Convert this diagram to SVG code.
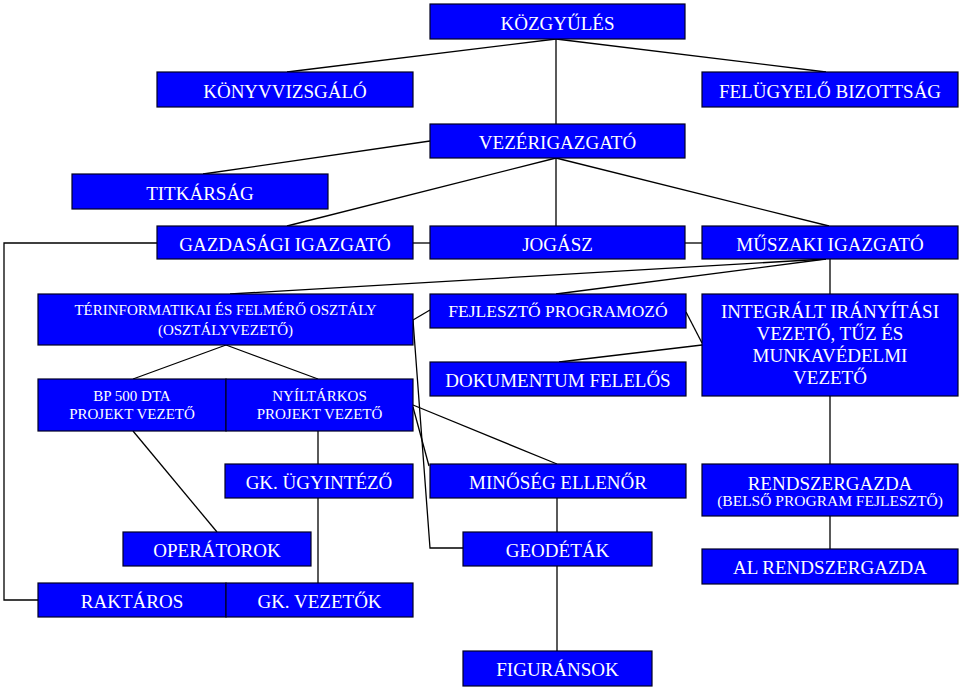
<svg xmlns="http://www.w3.org/2000/svg" width="959" height="691" viewBox="0 0 959 691">
<style>
.b{fill:#0000FF;stroke:#000022;stroke-width:1.2}
.t{font-family:"Liberation Serif","Times New Roman",serif;font-size:19px;fill:#FFFFFF;text-anchor:middle}
.s{font-size:15px}
.c{stroke:#000000;stroke-width:1.3;fill:none}
</style>
<rect width="959" height="691" fill="#FFFFFF"/>
<g id="connectors">
<line class="c" x1="556" y1="39" x2="287" y2="72"/>
<line class="c" x1="556" y1="39" x2="556" y2="124"/>
<line class="c" x1="556" y1="39" x2="826" y2="72"/>
<line class="c" x1="430" y1="141" x2="203" y2="174"/>
<line class="c" x1="556" y1="158" x2="287" y2="226"/>
<line class="c" x1="556" y1="158" x2="556" y2="226"/>
<line class="c" x1="556" y1="158" x2="829" y2="226"/>
<line class="c" x1="413" y1="243" x2="430" y2="243"/>
<line class="c" x1="685" y1="243" x2="702" y2="243"/>
<polyline class="c" points="157,243 4,243 4,600 38,600"/>
<line class="c" x1="826" y1="259" x2="230" y2="294"/>
<line class="c" x1="826" y1="259" x2="556" y2="294"/>
<line class="c" x1="830" y1="259" x2="830" y2="294"/>
<line class="c" x1="830" y1="396" x2="830" y2="464"/>
<line class="c" x1="830" y1="516" x2="830" y2="549"/>
<line class="c" x1="413" y1="320" x2="430" y2="310"/>
<line class="c" x1="686" y1="312" x2="702" y2="343"/>
<line class="c" x1="702" y1="345" x2="559" y2="362"/>
<line class="c" x1="226" y1="345" x2="133" y2="379"/>
<line class="c" x1="226" y1="345" x2="318" y2="379"/>
<line class="c" x1="413" y1="405" x2="557" y2="464"/>
<line class="c" x1="318" y1="431" x2="318" y2="464"/>
<line class="c" x1="318" y1="498" x2="318" y2="583"/>
<line class="c" x1="133" y1="431" x2="217" y2="532"/>
<line class="c" x1="413" y1="407" x2="429" y2="466"/>
<polyline class="c" points="413,320 430,548 463,548"/>
<line class="c" x1="557" y1="498" x2="557" y2="532"/>
<line class="c" x1="557" y1="566" x2="557" y2="651"/>
</g>
<g id="kozgyules"><rect class="b" x="430" y="4" width="255" height="35"/><text class="t" x="557.5" y="30">KÖZGYŰLÉS</text></g>
<g id="konyvvizsgalo"><rect class="b" x="157" y="72" width="256" height="35"/><text class="t" x="285" y="98">KÖNYVVIZSGÁLÓ</text></g>
<g id="felugyelo"><rect class="b" x="702" y="72" width="256" height="35"/><text class="t" x="830" y="98">FELÜGYELŐ BIZOTTSÁG</text></g>
<g id="vezerigazgato"><rect class="b" x="430" y="124" width="255" height="34"/><text class="t" x="557.5" y="149">VEZÉRIGAZGATÓ</text></g>
<g id="titkarsag"><rect class="b" x="72" y="174" width="256" height="35"/><text class="t" x="200" y="200">TITKÁRSÁG</text></g>
<g id="gazdasagi"><rect class="b" x="157" y="226" width="256" height="33"/><text class="t" x="285" y="251">GAZDASÁGI IGAZGATÓ</text></g>
<g id="jogasz"><rect class="b" x="430" y="226" width="255" height="33"/><text class="t" x="557.5" y="251">JOGÁSZ</text></g>
<g id="muszaki"><rect class="b" x="702" y="226" width="256" height="33"/><text class="t" x="830" y="251">MŰSZAKI IGAZGATÓ</text></g>
<g id="terinformatikai"><rect class="b" x="38" y="294" width="375" height="51"/><text class="t s" x="225.5" y="315">TÉRINFORMATIKAI ÉS FELMÉRŐ OSZTÁLY</text><text class="t s" x="225.5" y="334.5">(OSZTÁLYVEZETŐ)</text></g>
<g id="fejleszto"><rect class="b" x="430" y="294" width="256" height="34"/><text class="t" x="558" y="317" style="font-size:17.5px">FEJLESZTŐ PROGRAMOZÓ</text></g>
<g id="dokumentum"><rect class="b" x="430" y="362" width="256" height="34"/><text class="t" x="558" y="386.5">DOKUMENTUM FELELŐS</text></g>
<g id="integralt"><rect class="b" x="702" y="294" width="256" height="102"/><text class="t" x="830" y="318">INTEGRÁLT IRÁNYÍTÁSI</text><text class="t" x="830" y="340">VEZETŐ, TŰZ ÉS</text><text class="t" x="830" y="362">MUNKAVÉDELMI</text><text class="t" x="830" y="384">VEZETŐ</text></g>
<g id="bp500"><rect class="b" x="38" y="379" width="188" height="52"/><text class="t s" x="132" y="401">BP 500 DTA</text><text class="t s" x="132" y="419">PROJEKT VEZETŐ</text></g>
<g id="nyiltarkos"><rect class="b" x="226" y="379" width="187" height="52"/><text class="t s" x="319.5" y="401">NYÍLTÁRKOS</text><text class="t s" x="319.5" y="419">PROJEKT VEZETŐ</text></g>
<g id="gkugyintezo"><rect class="b" x="225" y="464" width="188" height="34"/><text class="t" x="319" y="489">GK. ÜGYINTÉZŐ</text></g>
<g id="minoseg"><rect class="b" x="430" y="464" width="256" height="34"/><text class="t" x="558" y="489">MINŐSÉG ELLENŐR</text></g>
<g id="rendszergazda"><rect class="b" x="702" y="464" width="256" height="52"/><text class="t" x="830" y="490">RENDSZERGAZDA</text><text class="t" x="830" y="506" style="font-size:15.5px">(BELSŐ PROGRAM FEJLESZTŐ)</text></g>
<g id="operatorok"><rect class="b" x="123" y="532" width="188" height="34"/><text class="t" x="217" y="557">OPERÁTOROK</text></g>
<g id="geodetak"><rect class="b" x="463" y="532" width="189" height="34"/><text class="t" x="557.5" y="557">GEODÉTÁK</text></g>
<g id="alrendszergazda"><rect class="b" x="702" y="549" width="256" height="35"/><text class="t" x="830" y="573.5">AL RENDSZERGAZDA</text></g>
<g id="raktaros"><rect class="b" x="38" y="583" width="188" height="34"/><text class="t" x="132" y="608">RAKTÁROS</text></g>
<g id="gkvezetok"><rect class="b" x="226" y="583" width="187" height="34"/><text class="t" x="319.5" y="608">GK. VEZETŐK</text></g>
<g id="figuransok"><rect class="b" x="463" y="651" width="189" height="35"/><text class="t" x="557.5" y="676">FIGURÁNSOK</text></g>
</svg>
